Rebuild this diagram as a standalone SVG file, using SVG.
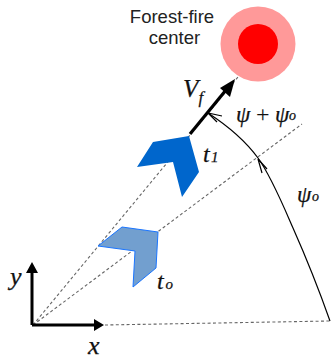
<svg xmlns="http://www.w3.org/2000/svg" width="333" height="360" viewBox="0 0 333 360">
<style>
.dot{fill:none;stroke:#666;stroke-width:1.1;stroke-dasharray:3 2.4}
.arc{fill:none;stroke:#000;stroke-width:1.2}
.ax{fill:none;stroke:#000;stroke-width:3}
.m{font-family:"Liberation Serif",serif;font-style:italic;fill:#111;stroke:#111;stroke-width:.25}
.s{font-family:"Liberation Sans",sans-serif;font-size:18.5px;fill:#222;text-anchor:middle}
</style>
<rect width="333" height="360" fill="#fff"/>
<g id="connectors">
<path class="dot" d="M33 325L238 77"/>
<path class="dot" d="M33 325L302 124"/>
<path class="dot" d="M105 325L330 321"/>
<path class="arc" d="M330 321C318 287 305 255 293 228C283 205 271 176 258 158C244 139 228 126 208 113"/>
<path class="arc" d="M267 169L258 159L262 173M222 116L208 113L217 122"/>
<path class="ax" d="M32 325V272M32 325H94"/>
<path d="M32 262L26 273H38Z M104 325L94 319V331Z" fill="#000"/>
<path d="M190 134L226 90" fill="none" stroke="#000" stroke-width="3.2"/>
<path d="M235 79L230 97L220 88Z" fill="#000"/>
</g>
<g id="fire-center">
<circle cx="258" cy="44" r="37.5" fill="#ff9999"/>
<circle cx="258" cy="44" r="20" fill="#ff0000"/>
<text class="s" x="172" y="23">Forest-fire</text>
<text class="s" x="174.500" y="44">center</text>
</g>
<g id="t0">
<path d="M158 232L156 268L133 287L135 251L98 246L122 227Z" fill="#729fcf" stroke="#1a75ff" stroke-width="1"/>
<text class="m" x="157" y="289" font-size="24">t</text><text class="m" x="165.500" y="289" font-size="15">o</text>
</g>
<g id="t1">
<path d="M189 136L199 172L182 197L173 162L137 167L153 142Z" fill="#0066cc"/>
<text class="m" x="203" y="162" font-size="24">t</text><text class="m" x="211" y="162" font-size="15">1</text>
</g>
<g id="labels">
<text class="m" x="183" y="97" font-size="25">V</text><text class="m" x="198.500" y="103" font-size="17">f</text>
<text class="m" x="236" y="122" font-size="23">ψ</text>
<text x="256" y="122" font-size="24" font-family="Liberation Serif,serif" fill="#111">+</text>
<text class="m" x="275" y="122" font-size="23">ψ</text><text class="m" x="289" y="120" font-size="14">o</text>
<text class="m" x="297" y="202" font-size="23">ψ</text><text class="m" x="312" y="201" font-size="14">o</text>
<text class="m" x="10" y="285" font-size="26">y</text>
<text class="m" x="88" y="354" font-size="26">x</text>
</g>
</svg>
